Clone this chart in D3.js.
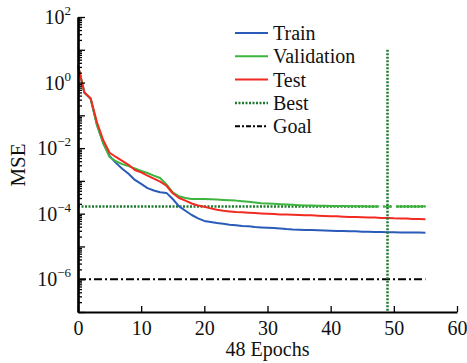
<!DOCTYPE html>
<html>
<head>
<meta charset="utf-8">
<script src="https://cdn.jsdelivr.net/npm/d3@7"></script>
<style>
  body { margin: 0; background: #fff; }
</style>
</head>
<body>
<svg id="chart"></svg>
<script>
// performance per epoch
const epochs = d3.range(0, 56);
const trainMse = [3.3, 0.5, 0.32, 0.052, 0.0141, 0.00575, 0.00355, 0.00234, 0.00166, 0.00107,
  8.1e-4, 6.0e-4, 5.1e-4, 4.5e-4, 4.3e-4, 2.8e-4, 1.66e-4, 1.23e-4, 9.1e-5, 7.2e-5,
  6.0e-5, 5.6e-5, 5.2e-5, 4.9e-5, 4.6e-5, 4.4e-5, 4.2e-5, 4.1e-5, 3.9e-5, 3.8e-5,
  3.7e-5, 3.63e-5, 3.55e-5, 3.4e-5, 3.3e-5, 3.24e-5, 3.2e-5, 3.16e-5, 3.1e-5, 3.05e-5,
  3.02e-5, 2.98e-5, 2.95e-5, 2.92e-5, 2.9e-5, 2.82e-5, 2.8e-5, 2.78e-5, 2.75e-5, 2.72e-5,
  2.7e-5, 2.68e-5, 2.67e-5, 2.66e-5, 2.65e-5, 2.63e-5];
const validMse = [3.3, 0.5, 0.32, 0.05, 0.0141, 0.00537, 0.00398, 0.00324, 0.00282, 0.0024,
  0.002, 0.00174, 0.00145, 0.00123, 7.8e-4, 4.5e-4, 3.4e-4, 3.0e-4, 2.8e-4, 2.8e-4,
  2.8e-4, 2.75e-4, 2.7e-4, 2.63e-4, 2.57e-4, 2.5e-4, 2.4e-4, 2.3e-4, 2.19e-4, 2.09e-4,
  2.04e-4, 2.0e-4, 1.95e-4, 1.9e-4, 1.86e-4, 1.82e-4, 1.78e-4, 1.77e-4, 1.74e-4, 1.73e-4,
  1.72e-4, 1.71e-4, 1.70e-4, 1.69e-4, 1.68e-4, 1.67e-4, 1.66e-4, 1.66e-4, 1.65e-4, 1.64e-4,
  1.65e-4, 1.65e-4, 1.66e-4, 1.66e-4, 1.66e-4, 1.67e-4];
const testMse = [3.3, 0.5, 0.331, 0.0617, 0.0174, 0.00724, 0.00537, 0.00407, 0.00309, 0.00214,
  0.00182, 0.00145, 0.00117, 9.5e-4, 7.1e-4, 4.2e-4, 3.0e-4, 2.5e-4, 2.04e-4, 1.78e-4,
  1.62e-4, 1.45e-4, 1.32e-4, 1.23e-4, 1.17e-4, 1.12e-4, 1.10e-4, 1.07e-4, 1.05e-4, 1.02e-4,
  1.0e-4, 9.8e-5, 9.5e-5, 9.5e-5, 9.3e-5, 9.1e-5, 8.9e-5, 8.9e-5, 8.7e-5, 8.5e-5,
  8.3e-5, 8.3e-5, 8.1e-5, 7.9e-5, 7.9e-5, 7.8e-5, 7.6e-5, 7.6e-5, 7.4e-5, 7.4e-5,
  7.2e-5, 7.1e-5, 7.1e-5, 6.9e-5, 6.9e-5, 6.8e-5];
const bestEpoch = 49;
const bestMse = 1.64e-4;
const goalMse = 1e-6;
const lastEpoch = 55;
const xTicks = [0, 10, 20, 30, 40, 50, 60];
const yExponents = [2, 0, -2, -4, -6];
const legendNames = ["Train", "Validation", "Test", "Best", "Goal"];

const FONT = "'Liberation Serif', 'DejaVu Serif', serif";
const W = 467, H = 363;
const margin = {top: 17, right: 10, bottom: 51, left: 78};
const width = 457 - margin.left, height = 312 - margin.top;

const svg = d3.select("#chart").attr("width", W).attr("height", H)
  .style("font-family", FONT);
const g = svg.append("g").attr("transform", "translate(" + margin.left + "," + margin.top + ")");

const x = d3.scaleLinear().domain([0, 60]).range([0, width]);
const y = d3.scaleLog().domain([1e-7, 1e2]).range([height, 0]);

const colors = {train: "#2a5bb8", valid: "#3db43d", test: "#f22b22", best: "#1f7a2e", goal: "#000"};

// goal + best lines
g.append("line")
  .attr("x1", x(0)).attr("x2", x(lastEpoch))
  .attr("y1", y(goalMse)).attr("y2", y(goalMse))
  .attr("stroke", colors.goal).attr("stroke-width", 2)
  .attr("stroke-dasharray", "8,3,2,3");
g.append("line")
  .attr("x1", x(0)).attr("x2", x(lastEpoch))
  .attr("y1", y(bestMse)).attr("y2", y(bestMse))
  .attr("stroke", colors.best).attr("stroke-width", 2.5)
  .attr("stroke-dasharray", "2,1.5");

const line = d3.line().x((d, i) => x(epochs[i])).y(d => y(d));
[[trainMse, colors.train], [validMse, colors.valid], [testMse, colors.test]].forEach(function (s) {
  g.append("path").datum(s[0])
    .attr("fill", "none")
    .attr("stroke", s[1])
    .attr("stroke-width", 2)
    .attr("stroke-linejoin", "round")
    .attr("d", line);
});

// best marker (white ring) + vertical line
g.append("circle")
  .attr("cx", x(bestEpoch)).attr("cy", y(bestMse)).attr("r", 6.5)
  .attr("fill", "none").attr("stroke", "#fff").attr("stroke-width", 4);
g.append("line")
  .attr("x1", x(bestEpoch)).attr("x2", x(bestEpoch))
  .attr("y1", y(1e1)).attr("y2", y(1e-7))
  .attr("stroke", colors.best).attr("stroke-width", 2.5)
  .attr("stroke-dasharray", "2,1.5");

// axes
const xAxis = g.append("g")
  .attr("transform", "translate(0," + height + ")")
  .call(d3.axisBottom(x).tickValues(xTicks).tickSize(-6).tickPadding(6).tickSizeOuter(0));
xAxis.attr("font-family", FONT);
xAxis.selectAll("text").attr("font-size", 20).attr("dy", "0.85em").attr("fill", "#111");

const minor = [];
for (let e = -7; e < 2; e++) {
  for (let k = 2; k < 10; k++) minor.push(k * Math.pow(10, e));
}
const decades = d3.range(-7, 3).map(e => Math.pow(10, e));

g.append("g").call(d3.axisLeft(y).tickValues(minor).tickSize(-4).tickFormat("").tickSizeOuter(0));
g.append("g")
  .call(d3.axisLeft(y).tickValues(decades).tickSize(-7).tickSizeOuter(0).tickFormat(""));

g.selectAll(".domain").attr("stroke", "#000").attr("stroke-width", 2.2);
g.selectAll(".tick line").attr("stroke", "#000").attr("stroke-width", 1.3);

const yLab = g.append("g");
yExponents.forEach(function (ex) {
  const t = yLab.append("text")
    .attr("x", -7).attr("y", y(Math.pow(10, ex)) + 7)
    .attr("text-anchor", "end").attr("font-size", 20).attr("fill", "#111")
    .attr("font-family", FONT);
  t.append("tspan").text("10");
  t.append("tspan").attr("dy", -9).attr("font-size", 13)
    .text(ex < 0 ? "\u2212" + (-ex) : String(ex));
});

svg.append("text")
  .attr("x", margin.left + x(30)).attr("y", 356)
  .attr("text-anchor", "middle").attr("font-size", 20).attr("fill", "#111")
  .attr("font-family", FONT)
  .text("48  Epochs");
svg.append("text")
  .attr("transform", "translate(25,165) rotate(-90)")
  .attr("text-anchor", "middle").attr("font-size", 21).attr("fill", "#111")
  .attr("font-family", FONT)
  .text("MSE");

// legend
const legendStyle = [
  {c: colors.train, dash: null, w: 2},
  {c: colors.valid, dash: null, w: 2},
  {c: colors.test, dash: null, w: 2},
  {c: colors.best, dash: "2,1.5", w: 2.5},
  {c: colors.goal, dash: "5,2,2,2", w: 2}
];
const legend = svg.append("g").attr("transform", "translate(235,33)");
legendNames.forEach(function (name, i) {
  const row = legend.append("g").attr("transform", "translate(0," + (i * 23.3) + ")");
  row.append("line").attr("x1", 0).attr("x2", 33).attr("y1", 0).attr("y2", 0)
    .attr("stroke", legendStyle[i].c).attr("stroke-width", legendStyle[i].w)
    .attr("stroke-dasharray", legendStyle[i].dash);
  row.append("text").attr("x", 38).attr("y", 7).attr("font-size", 20).attr("fill", "#111")
    .attr("font-family", FONT).text(name);
});
</script>
</body>
</html>
